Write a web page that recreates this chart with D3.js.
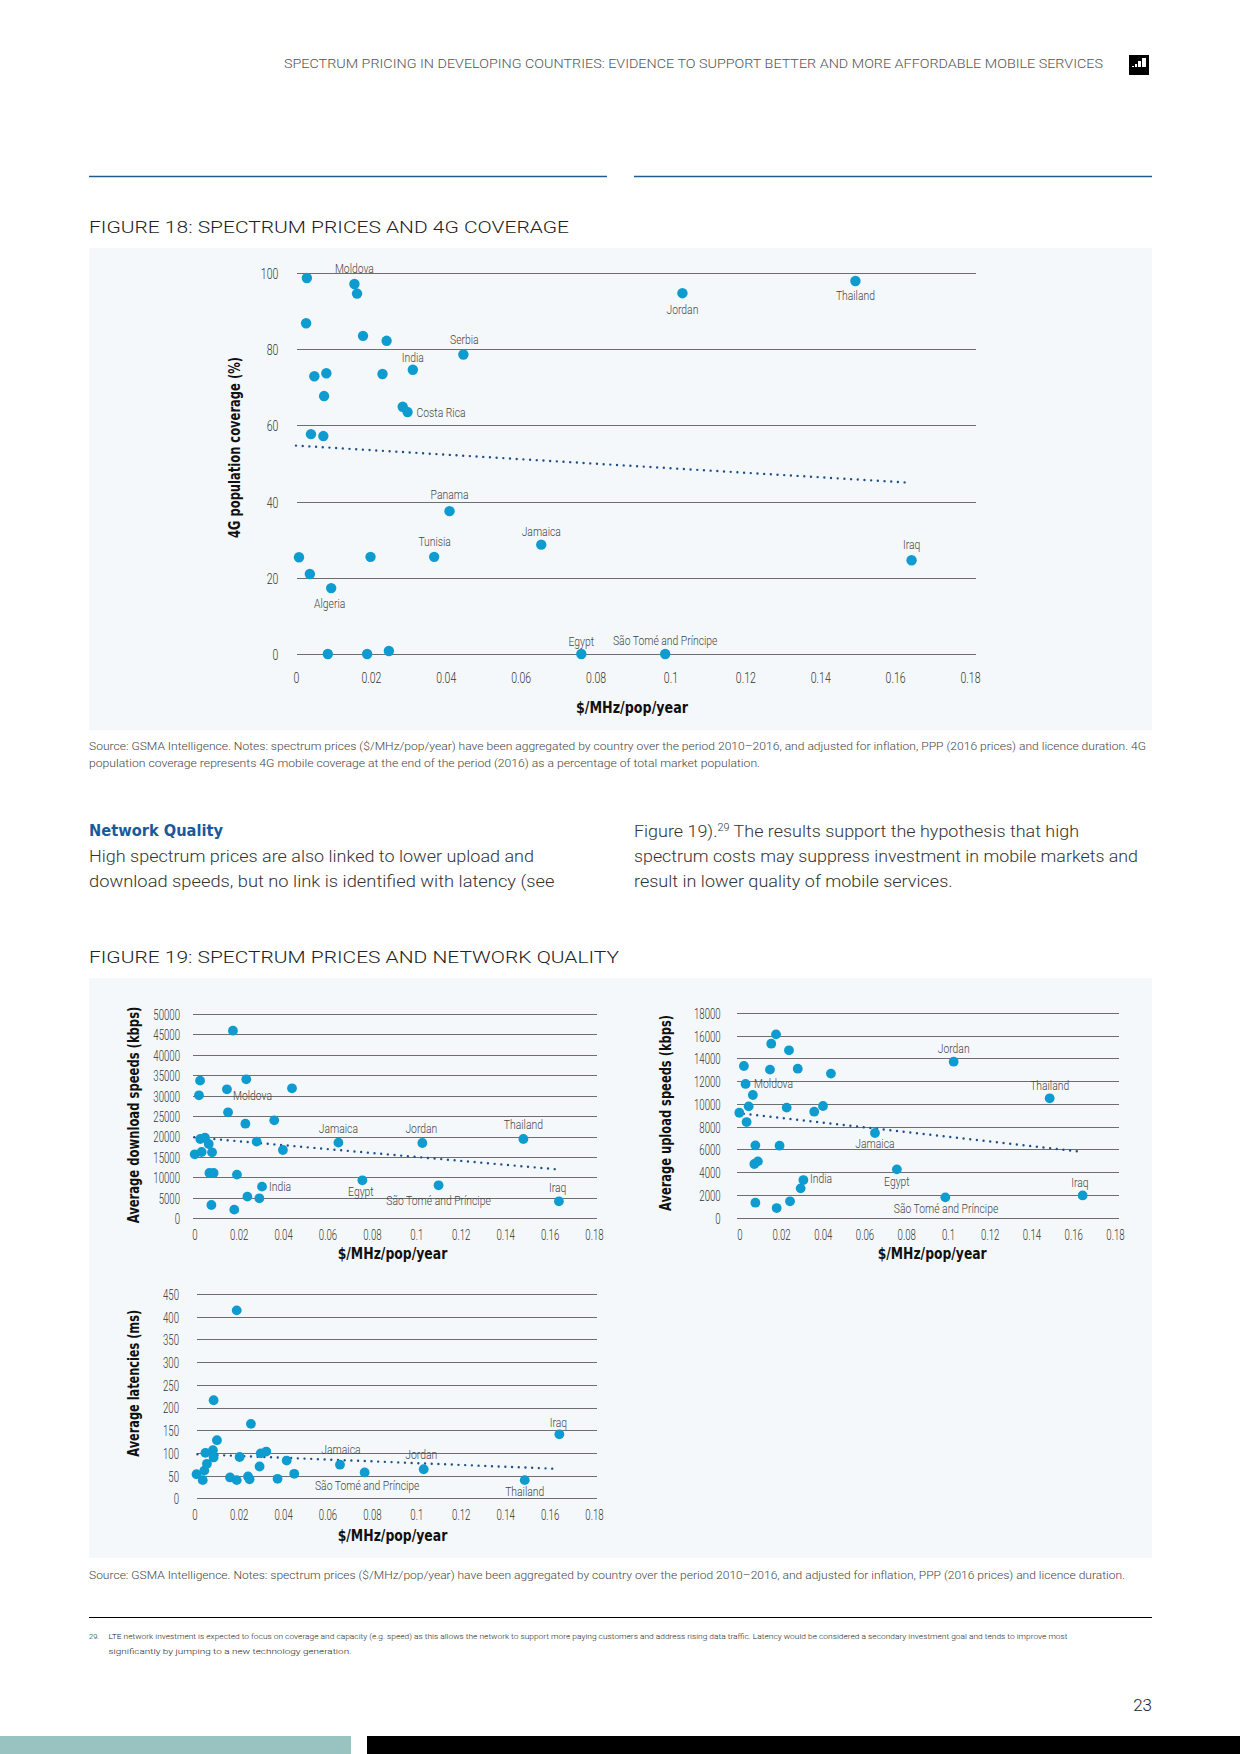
<!DOCTYPE html>
<html lang="en">
<head>
<meta charset="UTF-8">
<title>Spectrum prices, 4G coverage and network quality</title>
<script src="https://d3js.org/d3.v7.min.js"></script>
<style>
  body { margin: 0; background: #fff; }
  svg { display: block; font-family: 'Roboto', 'DejaVu Sans Condensed', sans-serif; font-weight: 300; }
  .grid line { stroke: #6e6e6e; stroke-width: 1; shape-rendering: crispEdges; }
  .grid .domain, .xax .domain, .xax line { display: none; }
  .tick text { fill: #333; font-family: 'Roboto', sans-serif; font-weight: 300; }
  .lbl { fill: #444; font-size: 12.5px; }
  .ttl { fill: #111; font-family: 'DejaVu Sans Condensed', sans-serif; font-weight: bold; font-size: 15px; }
</style>
</head>
<body>
<svg id="page" width="1240" height="1754"></svg>
<script>
// tick values
const priceTicks = [0, 0.02, 0.04, 0.06, 0.08, 0.1, 0.12, 0.14, 0.16, 0.18];
const coverageTicks = [0, 20, 40, 60, 80, 100];
const downloadTicks = [0, 5000, 10000, 15000, 20000, 25000, 30000, 35000, 40000, 45000, 50000];
const uploadTicks = [0, 2000, 4000, 6000, 8000, 10000, 12000, 14000, 16000, 18000];
const latencyTicks = [0, 50, 100, 150, 200, 250, 300, 350, 400, 450];

// Figure 18: price vs 4G coverage (%)
const covPrice = [0.0029, 0.0156, 0.0163, 0.0027, 0.0179, 0.0242, 0.0447, 0.0049, 0.0081, 0.0231,
  0.0312, 0.0075, 0.0285, 0.0298, 0.0040, 0.0073, 0.0410, 0.0655, 0.0008, 0.0199,
  0.0369, 0.0037, 0.0094, 0.0085, 0.0190, 0.0248, 0.0762, 0.1032, 0.1494, 0.1644, 0.0986];
const covValue = [98.7, 97.1, 94.6, 86.8, 83.5, 82.2, 78.6, 72.9, 73.7, 73.5,
  74.6, 67.7, 64.9, 63.5, 57.7, 57.2, 37.5, 28.7, 25.4, 25.5,
  25.5, 21.0, 17.3, 0, 0, 0.8, 0, 94.7, 97.9, 24.6, 0];
const covName = ['', 'Moldova', '', '', '', '', 'Serbia', '', '', '',
  'India', '', '', 'Costa Rica', '', '', 'Panama', 'Jamaica', '', '',
  'Tunisia', '', 'Algeria', '', '', '', 'Egypt', 'Jordan', 'Thailand', 'Iraq', 'São Tomé and Príncipe'];
const covTrend = [[0, 54.7], [0.1633, 45.0]];

// Figure 19: download speeds (kbps)
const dlPrice = [0.0174, 0.0026, 0.0234, 0.0021, 0.0147, 0.0440, 0.0152, 0.0230, 0.0360, 0.0048,
  0.0027, 0.0065, 0.0281, 0.0649, 0.1027, 0.1482, 0.0002, 0.0033, 0.0080, 0.0399,
  0.0068, 0.0087, 0.0192, 0.0757, 0.0305, 0.1100, 0.0239, 0.0293, 0.1642, 0.0077, 0.0180];
const dlValue = [45920, 33690, 34010, 30100, 31570, 31810, 25940, 23160, 23980, 19740,
  19410, 18190, 18760, 18520, 18430, 19410, 15660, 16230, 16150, 16720,
  11090, 11090, 10690, 9300, 7750, 8080, 5300, 4890, 4160, 3260, 2120];
const dlName = ['', '', '', '', 'Moldova', '', '', '', '', '',
  '', '', '', 'Jamaica', 'Jordan', 'Thailand', '', '', '', '',
  '', '', '', 'Egypt', 'India', 'São Tomé and Príncipe', '', '', 'Iraq', '', ''];
const dlTrend = [[0, 19820], [0.1632, 11990]];

// Figure 19: upload speeds (kbps)
const ulPrice = [0.0176, 0.0153, 0.0238, 0.0022, 0.0147, 0.0280, 0.0439, 0.1027, 0.0030, 0.0065,
  0.1487, 0.0045, 0.0227, 0.0401, 0.0359, 0.0000, 0.0035, 0.0650, 0.0077, 0.0193,
  0.0072, 0.0089, 0.0755, 0.0307, 0.0294, 0.1645, 0.0987, 0.0077, 0.0243, 0.0179];
const ulValue = [16120, 15300, 14720, 13340, 13020, 13100, 12670, 13720, 11760, 10790,
  10500, 9790, 9680, 9820, 9320, 9230, 8410, 7450, 6360, 6330,
  4720, 4950, 4250, 3310, 2580, 1960, 1790, 1320, 1440, 850];
const ulName = ['', '', '', '', '', '', '', 'Jordan', 'Moldova', '',
  'Thailand', '', '', '', '', '', '', 'Jamaica', '', '',
  '', '', 'Egypt', 'India', '', 'Iraq', 'São Tomé and Príncipe', '', '', ''];
const ulTrend = [[-0.001, 9200], [0.1637, 5800]];

// Figure 19: latencies (ms)
const latPrice = [0.0191, 0.0087, 0.0255, 0.0102, 0.1644, 0.0084, 0.0050, 0.0087, 0.0204, 0.0299,
  0.0324, 0.0416, 0.0057, 0.0656, 0.0294, 0.0045, 0.0010, 0.1033, 0.0767, 0.0450,
  0.0161, 0.0242, 0.0038, 0.0191, 0.0249, 0.0375, 0.1488];
const latValue = [414, 216, 164, 128, 141, 106, 100, 90, 91, 99,
  103, 83, 76, 74, 70, 61, 53, 64, 57, 54,
  46, 48, 40, 40, 42, 43, 40];
const latName = ['', '', '', '', 'Iraq', '', '', '', '', '',
  '', '', '', 'Jamaica', '', '', '', 'Jordan', 'São Tomé and Príncipe', '',
  '', '', '', '', '', '', 'Thailand'];
const latTrend = [[0.0014, 97], [0.163, 65]];

// where each label sits relative to its dot: [dx, dy, anchor]
const covLabelPos = {
  'Moldova': [0, -11, 'middle'], 'Serbia': [1, -11, 'middle'], 'India': [0, -8, 'middle'],
  'Costa Rica': [9, 4.5, 'start'], 'Panama': [0, -12, 'middle'], 'Jamaica': [0, -9, 'middle'],
  'Tunisia': [0.5, -10.5, 'middle'], 'Algeria': [-1.5, 19.5, 'middle'], 'Egypt': [0, -8, 'middle'],
  'Jordan': [0, 21, 'middle'], 'Thailand': [0, 19, 'middle'], 'Iraq': [0, -11, 'middle'],
  'São Tomé and Príncipe': [0, -9, 'middle']
};
const dlLabelPos = {
  'Moldova': [6, 11, 'start'], 'Jamaica': [0, -10, 'middle'], 'Jordan': [-1, -10, 'middle'],
  'Thailand': [0, -10, 'middle'], 'Egypt': [-1.5, 16, 'middle'], 'India': [7, 4.5, 'start'],
  'São Tomé and Príncipe': [0, 20, 'middle'], 'Iraq': [-1.3, -9, 'middle']
};
const ulLabelPos = {
  'Jordan': [0, -9, 'middle'], 'Thailand': [0, -8, 'middle'], 'Moldova': [8.5, 4, 'start'],
  'Jamaica': [0, 15, 'middle'], 'Egypt': [0, 17, 'middle'], 'India': [6.7, 3, 'start'],
  'Iraq': [-2.7, -8, 'middle'], 'São Tomé and Príncipe': [0.7, 16, 'middle']
};
const latLabelPos = {
  'Iraq': [-1, -7, 'middle'], 'Jamaica': [1, -11, 'middle'], 'Jordan': [-2.4, -10, 'middle'],
  'São Tomé and Príncipe': [2.6, 17.7, 'middle'], 'Thailand': [0, 15.5, 'middle']
};

const svg = d3.select('#page');
const dotColor = '#0e9bd0';
const trendColor = '#1f4f8c';

// width ratio so that `sample` set at `size` px comes out `target` px wide
function calib(size, sample, target) {
  const t = svg.append('text').style('font-size', size + 'px').text(sample);
  const w = t.node().getComputedTextLength();
  t.remove();
  return target / w;
}
function squeeze(sel, k) {
  sel.each(function () {
    const w = this.getComputedTextLength();
    if (w > 0) d3.select(this).attr('textLength', w * k).attr('lengthAdjust', 'spacingAndGlyphs');
  });
}
function fit(sel, w) {
  sel.attr('textLength', w).attr('lengthAdjust', 'spacingAndGlyphs');
}
function priceFmt(d) { return String(+d.toFixed(2)); }

const labelK = calib(12.5, 'São Tomé and Príncipe', 104.5);

function scatter(c) {
  const x = d3.scaleLinear().domain([0, 0.18]).range(c.xRange);
  const y = d3.scaleLinear().domain([0, c.yTicks[c.yTicks.length - 1]]).range(c.yRange);
  const g = svg.append('g');
  const tickK = calib(c.tickSize, c.tickSample[0], c.tickSample[1]);

  // horizontal gridlines + y tick labels
  const gy = g.append('g').attr('class', 'grid')
    .attr('transform', `translate(${c.gridX0},0)`)
    .call(d3.axisLeft(y).tickValues(c.yTicks).tickSize(-(c.gridX1 - c.gridX0))
      .tickPadding(c.yPad).tickFormat(d => String(d)));
  gy.selectAll('text').attr('dy', '0.36em').style('font-size', c.tickSize + 'px');
  squeeze(gy.selectAll('text'), tickK);

  // x tick labels
  const gx = g.append('g').attr('class', 'xax')
    .attr('transform', `translate(0,${y(0)})`)
    .call(d3.axisBottom(x).tickValues(priceTicks).tickSize(0).tickFormat(priceFmt));
  gx.selectAll('text').attr('y', c.xLabelY).attr('dy', 0).style('font-size', c.tickSize + 'px');
  squeeze(gx.selectAll('text'), tickK);

  // trend line
  g.append('path')
    .datum(c.trend)
    .attr('d', d3.line().x(d => x(d[0])).y(d => y(d[1])))
    .attr('fill', 'none')
    .attr('stroke', trendColor)
    .attr('stroke-width', 2.4)
    .attr('stroke-linecap', 'round')
    .attr('stroke-dasharray', '0 6.7');

  const pts = c.price.map((p, i) => ({ p: p, v: c.value[i], name: c.name[i] }));

  g.selectAll('circle.pt')
    .data(pts)
    .enter()
    .append('circle')
    .attr('class', 'pt')
    .attr('cx', d => x(d.p))
    .attr('cy', d => y(d.v))
    .attr('r', c.r)
    .attr('fill', dotColor);

  const lbl = g.selectAll('text.lbl')
    .data(pts.filter(d => d.name))
    .enter()
    .append('text')
    .attr('class', 'lbl')
    .attr('x', d => x(d.p) + c.labelPos[d.name][0])
    .attr('y', d => y(d.v) + c.labelPos[d.name][1])
    .attr('text-anchor', d => c.labelPos[d.name][2])
    .text(d => d.name);
  squeeze(lbl, labelK);

  // axis titles
  const xt = g.append('text').attr('class', 'ttl')
    .attr('x', c.xTitle[0]).attr('y', c.xTitle[1])
    .attr('text-anchor', 'middle').text('$/MHz/pop/year');
  fit(xt, c.xTitle[2]);

  const yt = g.append('text').attr('class', 'ttl')
    .attr('transform', `translate(${c.yTitle[0]},${c.yTitle[1]}) rotate(-90)`)
    .attr('text-anchor', 'middle').attr('dy', '0.35em').text(c.yLabel);
  fit(yt, c.yTitle[2]);
}

// ---------- page furniture ----------
const header = svg.append('text')
  .attr('x', 1103).attr('y', 68).attr('text-anchor', 'end')
  .style('font-size', '12px').style('fill', '#555')
  .text('SPECTRUM PRICING IN DEVELOPING COUNTRIES: EVIDENCE TO SUPPORT BETTER AND MORE AFFORDABLE MOBILE SERVICES');
fit(header, 819);

// small logo
svg.append('rect').attr('x', 1129).attr('y', 55).attr('width', 20).attr('height', 20).attr('fill', '#000');
[[1132, 66, 2, 4], [1135, 64, 2, 6], [1138, 61, 3, 9], [1142, 58, 4, 12]].forEach(b => {
  svg.append('rect').attr('x', b[0]).attr('y', b[1]).attr('width', b[2]).attr('height', b[3] - 3).attr('fill', '#fff');
});

svg.append('line').attr('x1', 89).attr('x2', 607).attr('y1', 176.5).attr('y2', 176.5)
  .attr('stroke', '#1f5c8f').attr('stroke-width', 1.3);
svg.append('line').attr('x1', 634).attr('x2', 1152).attr('y1', 176.5).attr('y2', 176.5)
  .attr('stroke', '#1f5c8f').attr('stroke-width', 1.3);

const t18 = svg.append('text').attr('x', 89).attr('y', 232.7)
  .style('font-size', '17px').style('fill', '#222')
  .text('FIGURE 18: SPECTRUM PRICES AND 4G COVERAGE');
fit(t18, 480);

svg.append('rect').attr('x', 89).attr('y', 248).attr('width', 1063).attr('height', 482).attr('fill', '#f4f8fa');

const src18a = svg.append('text').attr('x', 89).attr('y', 750)
  .style('font-size', '10px').style('fill', '#444')
  .text('Source: GSMA Intelligence. Notes: spectrum prices ($/MHz/pop/year) have been aggregated by country over the period 2010–2016, and adjusted for inflation, PPP (2016 prices) and licence duration. 4G');
fit(src18a, 1057);
const src18b = svg.append('text').attr('x', 89).attr('y', 767)
  .style('font-size', '10px').style('fill', '#444')
  .text('population coverage represents 4G mobile coverage at the end of the period (2016) as a percentage of total market population.');
fit(src18b, 671);

const nq = svg.append('text').attr('x', 89).attr('y', 836)
  .style('font-family', "'DejaVu Sans Condensed', sans-serif")
  .style('font-size', '16px').style('font-weight', 'bold').style('fill', '#1a5a9a')
  .text('Network Quality');
fit(nq, 134);

const para = [
  [89, 861.7, 445, 'High spectrum prices are also linked to lower upload and'],
  [89, 886.7, 465.5, 'download speeds, but no link is identified with latency (see'],
  [634, 861.7, 504, 'spectrum costs may suppress investment in mobile markets and'],
  [634, 886.7, 318.6, 'result in lower quality of mobile services.']
];
para.forEach(p => {
  const t = svg.append('text').attr('x', p[0]).attr('y', p[1])
    .style('font-size', '16.5px').style('fill', '#333').text(p[3]);
  fit(t, p[2]);
});
const fig19ref = svg.append('text').attr('x', 634).attr('y', 836.7)
  .style('font-size', '16.5px').style('fill', '#333');
fig19ref.append('tspan').text('Figure 19).');
fig19ref.append('tspan').attr('dy', -6).style('font-size', '10px').text('29');
fig19ref.append('tspan').attr('dy', 6).text(' The results support the hypothesis that high');
fit(fig19ref, 445);

const t19 = svg.append('text').attr('x', 89).attr('y', 962.7)
  .style('font-size', '17px').style('fill', '#222')
  .text('FIGURE 19: SPECTRUM PRICES AND NETWORK QUALITY');
fit(t19, 530);

svg.append('rect').attr('x', 89).attr('y', 978).attr('width', 1063).attr('height', 580).attr('fill', '#f4f8fa');

const src19 = svg.append('text').attr('x', 89).attr('y', 1579)
  .style('font-size', '10px').style('fill', '#444')
  .text('Source: GSMA Intelligence. Notes: spectrum prices ($/MHz/pop/year) have been aggregated by country over the period 2010–2016, and adjusted for inflation, PPP (2016 prices) and licence duration.');
fit(src19, 1036);

svg.append('line').attr('x1', 89).attr('x2', 1152).attr('y1', 1617.5).attr('y2', 1617.5)
  .attr('stroke', '#000').attr('stroke-width', 1.2);
svg.append('text').attr('x', 89).attr('y', 1639).style('font-size', '7.5px').style('fill', '#222').text('29.');
const fn1 = svg.append('text').attr('x', 108.5).attr('y', 1639).style('font-size', '7.5px').style('fill', '#222')
  .text('LTE network investment is expected to focus on coverage and capacity (e.g. speed) as this allows the network to support more paying customers and address rising data traffic. Latency would be considered a secondary investment goal and tends to improve most');
fit(fn1, 959);
const fn2 = svg.append('text').attr('x', 108.5).attr('y', 1654).style('font-size', '7.5px').style('fill', '#222')
  .text('significantly by jumping to a new technology generation.');
fit(fn2, 243);

svg.append('text').attr('x', 1152).attr('y', 1711).attr('text-anchor', 'end')
  .style('font-size', '17px').style('fill', '#222').text('23');

svg.append('rect').attr('x', 0).attr('y', 1736).attr('width', 351).attr('height', 18).attr('fill', '#98c3c1');
svg.append('rect').attr('x', 367).attr('y', 1736).attr('width', 873).attr('height', 18).attr('fill', '#000');

// ---------- the four scatter plots ----------
scatter({
  price: covPrice, value: covValue, name: covName, trend: covTrend, labelPos: covLabelPos,
  yTicks: coverageTicks, xRange: [296, 970], yRange: [654, 273],
  gridX0: 297, gridX1: 976, yPad: 18.7, xLabelY: 29, tickSize: 15.5, tickSample: ['0.02', 20],
  r: 5.2,
  xTitle: [632, 713, 112], yTitle: [235, 447.5, 181], yLabel: '4G population coverage (%)'
});

scatter({
  price: dlPrice, value: dlValue, name: dlName, trend: dlTrend, labelPos: dlLabelPos,
  yTicks: downloadTicks, xRange: [194.3, 594], yRange: [1218.3, 1014],
  gridX0: 192.7, gridX1: 597.3, yPad: 12.7, xLabelY: 22, tickSize: 15, tickSample: ['50000', 26.7],
  r: 4.9,
  xTitle: [392.5, 1258.5, 109.6], yTitle: [133.3, 1115, 216.7], yLabel: 'Average download speeds (kbps)'
});

scatter({
  price: ulPrice, value: ulValue, name: ulName, trend: ulTrend, labelPos: ulLabelPos,
  yTicks: uploadTicks, xRange: [739.3, 1115], yRange: [1217.7, 1013],
  gridX0: 737.3, gridX1: 1119.3, yPad: 16.6, xLabelY: 22, tickSize: 15, tickSample: ['50000', 26.7],
  r: 4.9,
  xTitle: [932.2, 1258.5, 109], yTitle: [665.7, 1113, 196], yLabel: 'Average upload speeds (kbps)'
});

scatter({
  price: latPrice, value: latValue, name: latName, trend: latTrend, labelPos: latLabelPos,
  yTicks: latencyTicks, xRange: [194.3, 594], yRange: [1498.3, 1294],
  gridX0: 196.7, gridX1: 597.3, yPad: 17.7, xLabelY: 21.7, tickSize: 15, tickSample: ['50000', 26.7],
  r: 4.9,
  xTitle: [392.5, 1541, 109.6], yTitle: [133.3, 1383.3, 146.7], yLabel: 'Average latencies (ms)'
});
</script>
</body>
</html>
